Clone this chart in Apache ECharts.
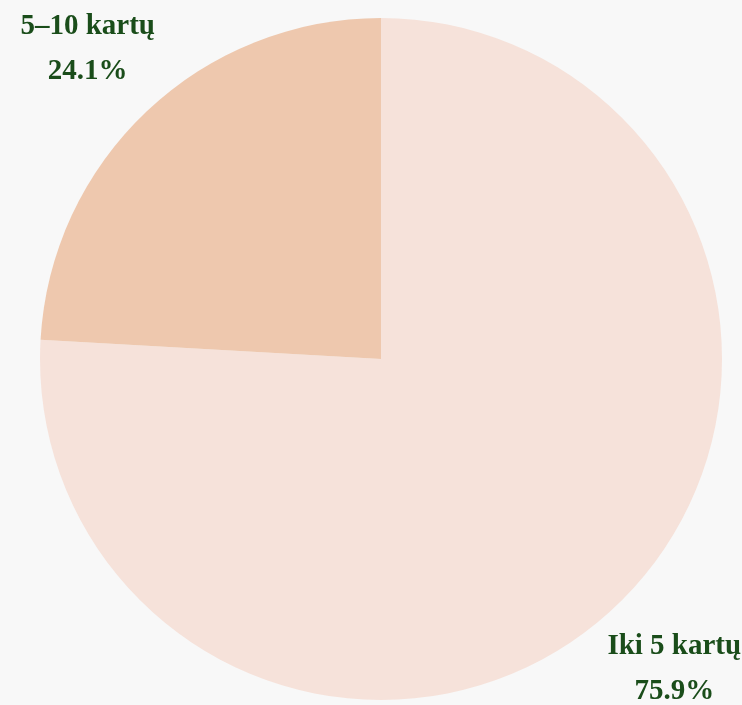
<!DOCTYPE html>
<html>
<head>
<meta charset="utf-8">
<script src="https://cdn.jsdelivr.net/npm/echarts@6/dist/echarts.min.js"></script>
<style>
  html, body { margin: 0; padding: 0; background: #f8f8f8; }
  #chart { width: 742px; height: 705px; }
</style>
</head>
<body>
<div id="chart"></div>
<script>
const categories = ['Iki 5 kartų', '5–10 kartų']
const shares = [75.9, 24.1]
const sliceColors = ['#f6e2da', '#eec8ae']

const chart = echarts.init(document.getElementById('chart'))

const pieData = categories.map((name, i) => ({ name, value: shares[i], itemStyle: { color: sliceColors[i] } }))

chart.setOption({
  backgroundColor: '#f8f8f8',
  animation: false,
  series: [
    {
      // the pie itself
      type: 'pie',
      center: [381, 359],
      radius: [0, 341],
      startAngle: 90,
      clockwise: true,
      label: { show: false },
      labelLine: { show: false },
      data: pieData
    },
    {
      // invisible ring, only used to place the labels further out
      type: 'pie',
      center: [381, 359],
      radius: [0, 848],
      startAngle: 90,
      clockwise: true,
      silent: true,
      itemStyle: { color: 'transparent' },
      label: {
        show: true,
        position: 'inside',
        formatter: '{b}\n{c}%',
        color: '#1a4d1a',
        fontFamily: 'Liberation Serif',
        fontWeight: 'bold',
        fontSize: 29,
        lineHeight: 45,
        align: 'center'
      },
      labelLine: { show: false },
      data: categories.map((name, i) => ({ name, value: shares[i] }))
    }
  ]
})
</script>
</body>
</html>
